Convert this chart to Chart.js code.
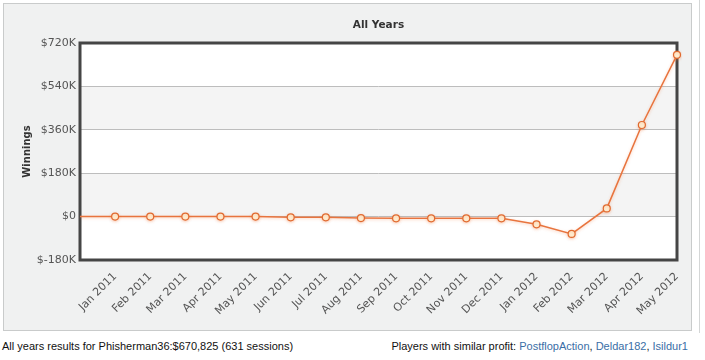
<!DOCTYPE html>
<html>
<head>
<meta charset="utf-8">
<script src="https://cdn.jsdelivr.net/npm/chart.js@4"></script>
<style>
  body { margin: 0; background: #fff; width: 705px; height: 360px; position: relative; overflow: hidden; }
  #panel { position: absolute; left: 3px; top: 3px; width: 687px; height: 326px; background: #f0f1f1; border: 1px solid #c9cbcb; }
  #edge { position: absolute; left: 699px; top: 0; width: 0; height: 333px; border-left: 1px solid #d4d6d6; }
  #wrap { position: absolute; left: 0; top: 0; width: 705px; height: 335px; }
  .foot { position: absolute; top: 340px; font: 11px "Liberation Sans", Arial, sans-serif; color: #111; white-space: nowrap; }
  .foot a { color: #3a6ea6; text-decoration: none; }
</style>
</head>
<body>
<div id="panel"></div>
<div id="edge"></div>
<div id="wrap"><canvas id="chart" width="705" height="335"></canvas></div>
<div class="foot" style="left:2px">All years results for Phisherman36:$670,825 (631 sessions)</div>
<div class="foot" style="right:17px">Players with similar profit: <a href="#">PostflopAction</a>, <a href="#">Deldar182</a>, <a href="#">Isildur1</a></div>
<script>
// months, first entry is the starting point with no label
const months = ["", "Jan 2011", "Feb 2011", "Mar 2011", "Apr 2011", "May 2011", "Jun 2011",
  "Jul 2011", "Aug 2011", "Sep 2011", "Oct 2011", "Nov 2011", "Dec 2011",
  "Jan 2012", "Feb 2012", "Mar 2012", "Apr 2012", "May 2012"];
const winnings = [0, 0, 0, 0, 0, 0, -3000, -3000, -6000, -7000, -7000, -7000, -7000,
  -32000, -72000, 34000, 380000, 670825];
const yTicks = [-180000, 0, 180000, 360000, 540000, 720000];
const chartTitle = "All Years";

// bands, frame and title
const framePlugin = {
  id: "frame",
  beforeDraw(chart) {
    const { ctx, chartArea: a, scales: { y } } = chart;
    ctx.save();
    ctx.fillStyle = "#fff";
    ctx.fillRect(a.left, a.top, a.right - a.left, a.bottom - a.top);
    ctx.fillStyle = "#f4f4f4";
    for (let i = 1; i < yTicks.length - 1; i += 2) {
      const top = y.getPixelForValue(yTicks[i + 1]);
      const bot = y.getPixelForValue(yTicks[i]);
      ctx.fillRect(a.left, top, a.right - a.left, bot - top);
    }
    ctx.fillStyle = "#333";
    ctx.font = "bold 10.5px 'DejaVu Sans'";
    ctx.textAlign = "center";
    ctx.textBaseline = "middle";
    ctx.fillText(chartTitle, (a.left + a.right) / 2, 25);
    ctx.restore();
  },
  beforeDatasetsDraw(chart) {
    const { ctx, chartArea: a } = chart;
    ctx.save();
    ctx.strokeStyle = "#454545";
    ctx.lineWidth = 3;
    ctx.strokeRect(a.left, a.top, a.right - a.left, a.bottom - a.top);
    ctx.restore();
  },
  beforeDatasetDraw(chart) {
    chart.ctx.save();
    chart.ctx.shadowColor = "rgba(240,120,60,0.35)";
    chart.ctx.shadowBlur = 3;
    chart.ctx.shadowOffsetY = 1;
  },
  afterDatasetDraw(chart) {
    chart.ctx.restore();
  }
};

new Chart(document.getElementById("chart"), {
  type: "line",
  data: {
    labels: months,
    datasets: [{
      data: winnings,
      borderColor: "#e8743e",
      borderWidth: 1.5,
      pointRadius: winnings.map((v, i) => (i === 0 ? 0 : 3.5)),
      pointBackgroundColor: "#fff1d6",
      pointBorderColor: "#e06a30",
      pointBorderWidth: 1.2,
      tension: 0
    }]
  },
  options: {
    responsive: false,
    animation: false,
    layout: { padding: { top: 43, right: 28, left: 0, bottom: 0 } },
    plugins: { legend: { display: false }, tooltip: { enabled: false } },
    scales: {
      x: {
        offset: false,
        grid: { display: false },
        border: { display: false },
        ticks: {
          autoSkip: false,
          minRotation: 45,
          maxRotation: 45,
          padding: 2,
          color: "#555",
          font: { family: "DejaVu Sans", size: 11 }
        },
        afterFit(scale) { scale.height = 75; }
      },
      y: {
        min: -180000,
        max: 720000,
        afterBuildTicks(scale) { scale.ticks = yTicks.map(v => ({ value: v })); },
        grid: { color: "#bdbdbd", drawTicks: false },
        border: { display: false },
        ticks: {
          padding: 4,
          color: "#555",
          font: { family: "DejaVu Sans", size: 11 },
          callback: v => (v === 0 ? "$0" : "$" + v / 1000 + "K")
        },
        title: {
          display: true,
          text: "Winnings",
          color: "#333",
          padding: { top: 21 },
          font: { family: "DejaVu Sans", size: 10, weight: "bold" }
        },
        afterFit(scale) { scale.width = 80; }
      }
    }
  },
  plugins: [framePlugin]
});
</script>
</body>
</html>
